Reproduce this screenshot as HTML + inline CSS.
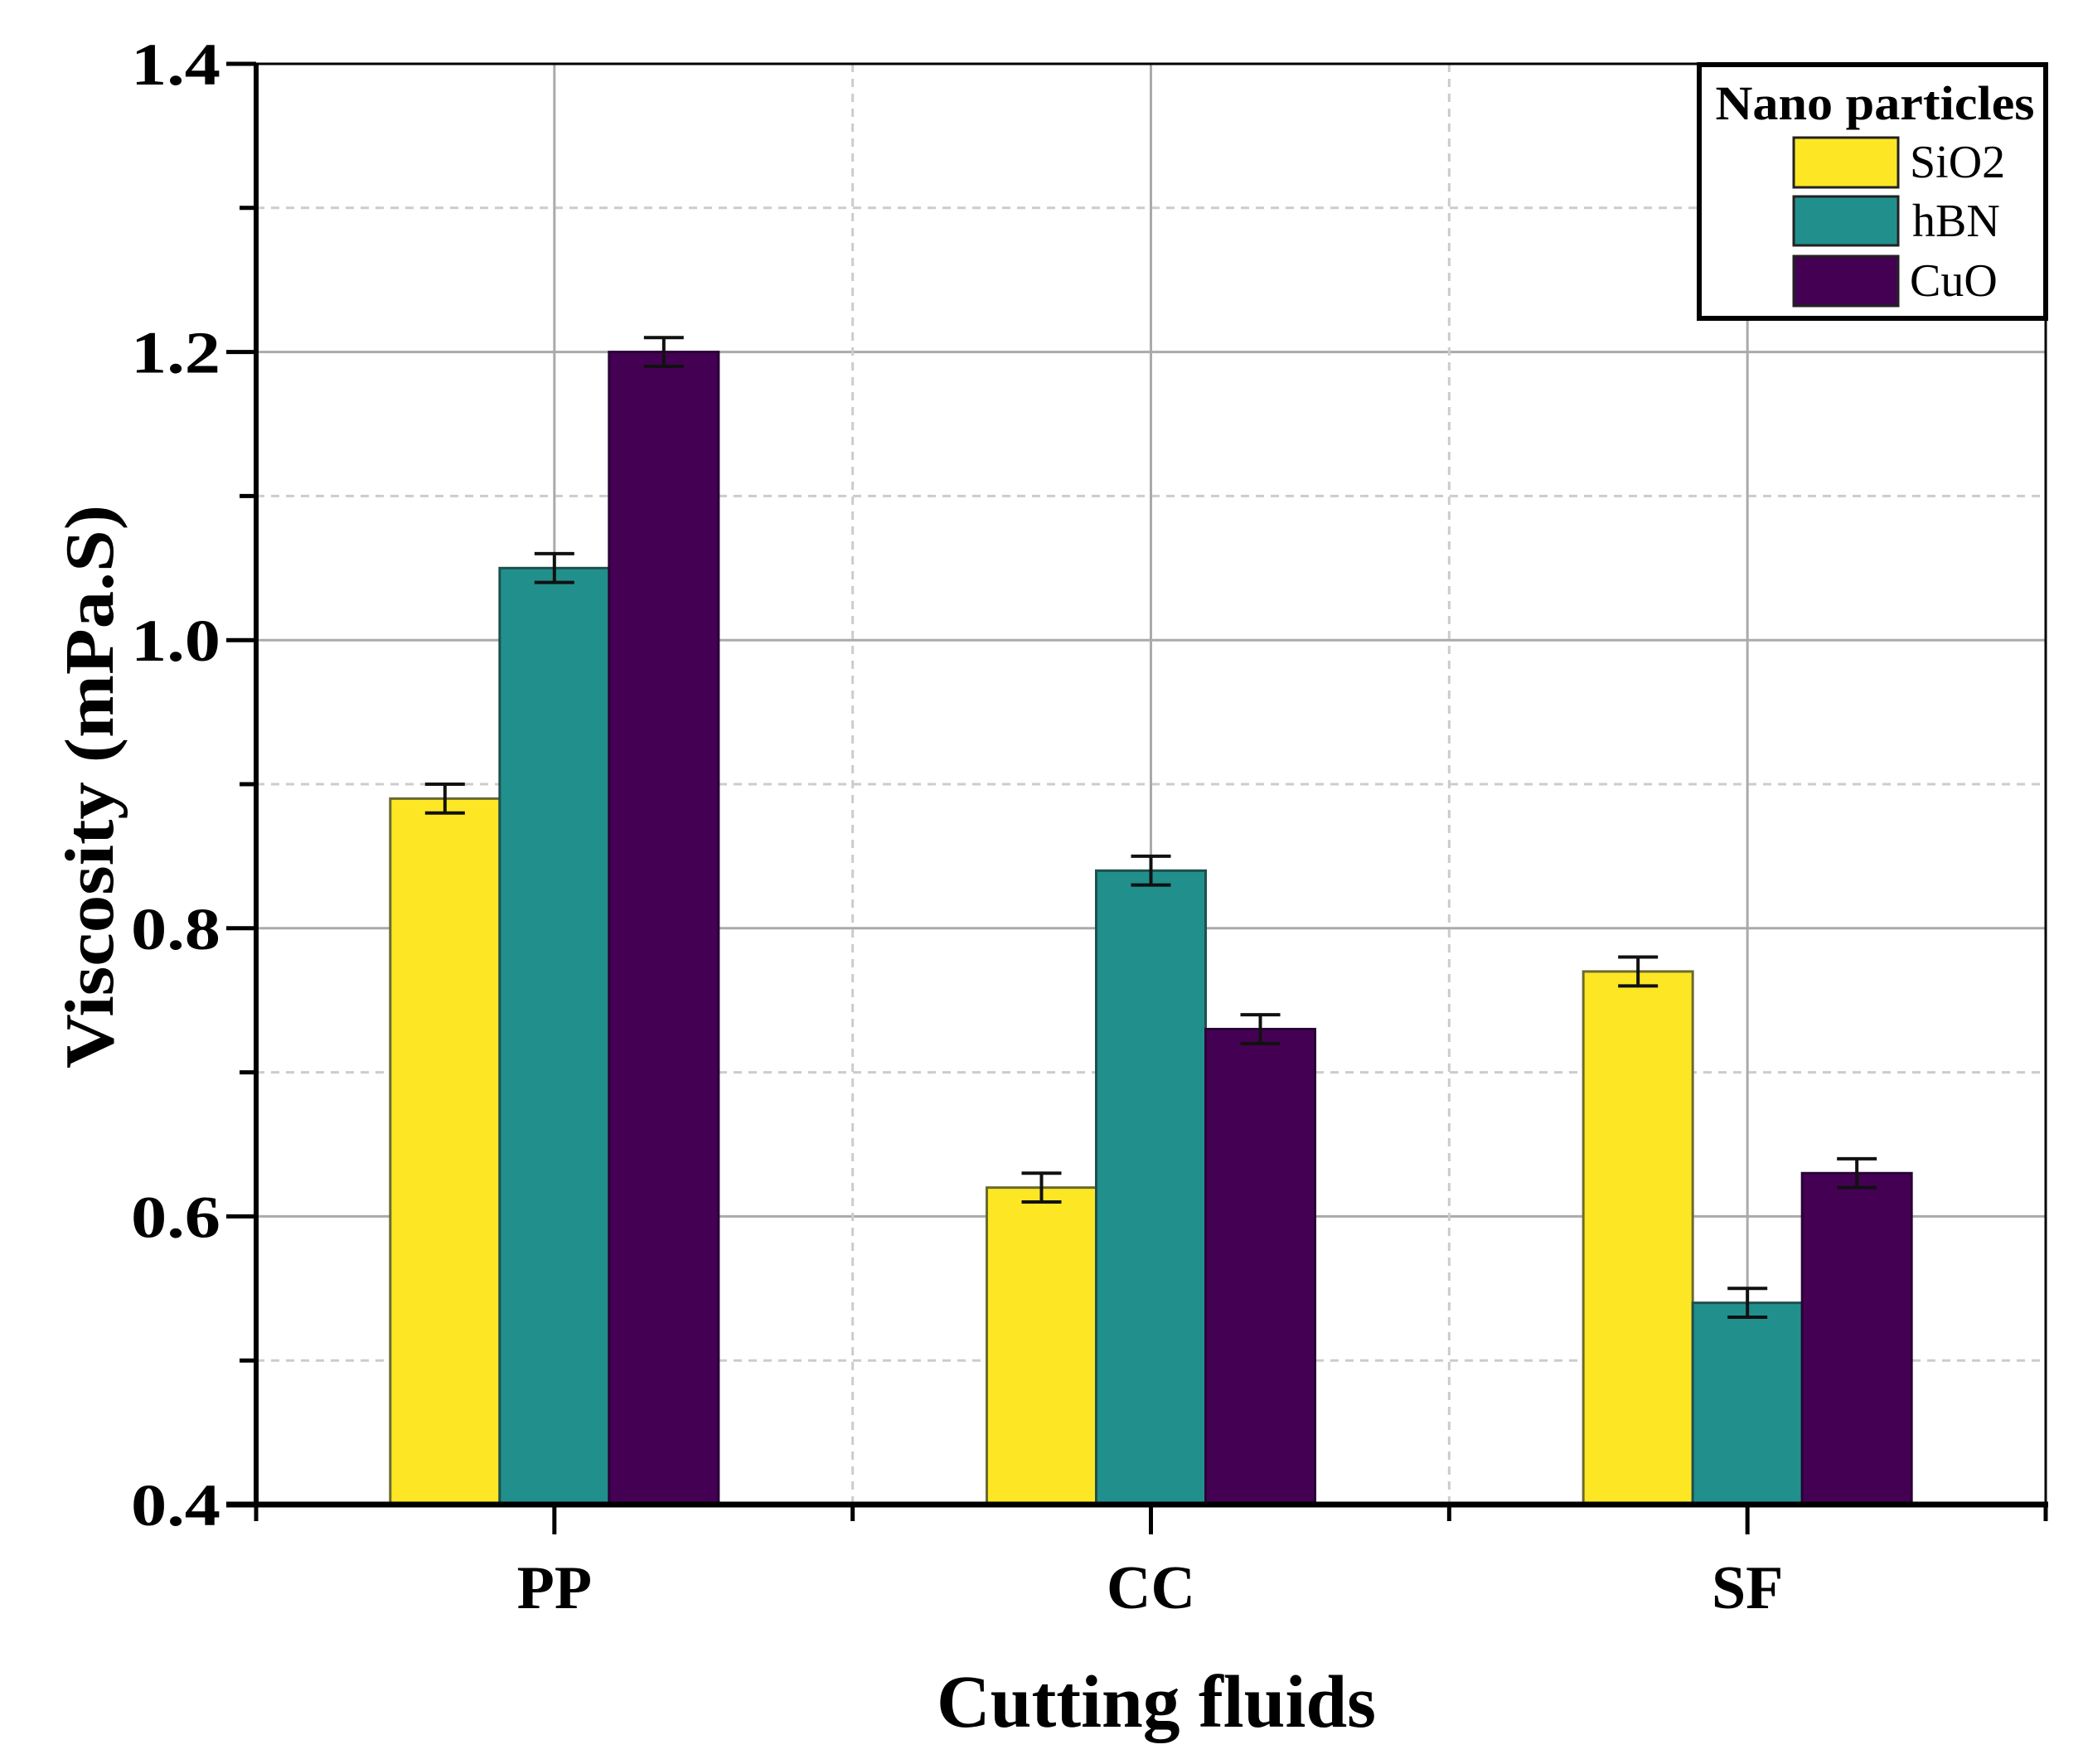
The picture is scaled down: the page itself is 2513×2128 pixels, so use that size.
<!DOCTYPE html>
<html><head><meta charset="utf-8"><style>
html,body{margin:0;padding:0;background:#fff;}
svg{display:block;font-family:"Liberation Serif",serif;}
</style></head><body>
<svg id="chart" width="2513" height="2128" viewBox="0 0 2513 2128">
<g id="grid"></g>
<g id="bars"></g>
<g id="axes"></g>
<text x="1395" y="2083" font-size="90" font-weight="bold" text-anchor="middle" textLength="530" lengthAdjust="spacingAndGlyphs">Cutting fluids</text>
<text transform="translate(136,949) rotate(-90)" font-size="84" font-weight="bold" text-anchor="middle" textLength="680" lengthAdjust="spacingAndGlyphs">Viscosity (mPa.S)</text>
<g>
<rect x="2050" y="78" width="418" height="306" fill="#fff" stroke="#000" stroke-width="6"/>
<text x="2262" y="144" font-size="58" font-weight="bold" text-anchor="middle" textLength="385" lengthAdjust="spacingAndGlyphs">Nano particles</text>
<g><rect x="2164" y="166" width="126" height="60" fill="#fde725" stroke="#222" stroke-width="3"/><text x="2304" y="214" font-size="56">SiO2</text></g>
<g><rect x="2164" y="237" width="126" height="59" fill="#21908d" stroke="#222" stroke-width="3"/><text x="2307" y="285" font-size="56">hBN</text></g>
<g><rect x="2164" y="309" width="126" height="60" fill="#440154" stroke="#222" stroke-width="3"/><text x="2304" y="357" font-size="56">CuO</text></g>
</g>
</svg>
<script>
const categories = ["PP", "CC", "SF"];
const seriesNames = ["SiO2", "hBN", "CuO"];
const sio2Values = [0.89, 0.62, 0.77];
const hbnValues = [1.05, 0.84, 0.54];
const cuoValues = [1.20, 0.73, 0.63];
const errorValues = [0.01, 0.01, 0.01];
const yTickLabels = ["0.4", "0.6", "0.8", "1.0", "1.2", "1.4"];
const yTickValues = [0.4, 0.6, 0.8, 1.0, 1.2, 1.4];
const yMinorValues = [0.5, 0.7, 0.9, 1.1, 1.3];

const seriesValues = [sio2Values, hbnValues, cuoValues];
const colors = ["#fde725", "#21908d", "#440154"];
const strokes = ["#6a6a30", "#1f4f4c", "#2a0035"];
const NS = "http://www.w3.org/2000/svg";
const L = 309, R = 2468, T = 77, B = 1815;
const yMin = 0.4, yMax = 1.4;
const catW = (R - L) / categories.length;
function xCat(i) { return L + catW * (i + 0.5); }
function y(v) { return B - (v - yMin) / (yMax - yMin) * (B - T); }
const barW = 132;
function mk(tag, attrs, parent) { const e = document.createElementNS(NS, tag); for (const k in attrs) e.setAttribute(k, attrs[k]); parent.appendChild(e); return e; }
const grid = document.getElementById('grid'), bars = document.getElementById('bars'), axes = document.getElementById('axes');

yTickValues.forEach((v, i) => {
  if (v > yMin && v < yMax) {
    const g = mk('line', {x1: L, x2: R, y1: y(v), y2: y(v), stroke: '#aaa', 'stroke-width': 3}, grid);
    
    
  }
  const t = mk('line', {x1: L - 36, x2: L, y1: y(v), y2: y(v), stroke: '#000', 'stroke-width': 5}, axes);
  
  
  const lb = mk('text', {x: 266, y: y(v) + 25, 'font-size': 72, 'font-weight': 'bold', 'text-anchor': 'end', textLength: 108, lengthAdjust: 'spacingAndGlyphs'}, axes);
  lb.textContent = yTickLabels[i];
  
  
});
yMinorValues.forEach(v => {
  const g = mk('line', {x1: L, x2: R, y1: y(v), y2: y(v), stroke: '#ccc', 'stroke-width': 3, 'stroke-dasharray': '10 8'}, grid);
  
  
  const t = mk('line', {x1: L - 20, x2: L, y1: y(v), y2: y(v), stroke: '#000', 'stroke-width': 5}, axes);
  
  
});
categories.forEach((c, i) => {
  const g = mk('line', {x1: xCat(i), x2: xCat(i), y1: T, y2: B, stroke: '#aaa', 'stroke-width': 3}, grid);
  
  
  if (i < categories.length - 1) {
    const d = mk('line', {x1: L + catW * (i + 1), x2: L + catW * (i + 1), y1: T, y2: B, stroke: '#ccc', 'stroke-width': 3, 'stroke-dasharray': '10 8'}, grid);
    
    
  }
  const t = mk('line', {x1: xCat(i), x2: xCat(i), y1: B, y2: B + 36, stroke: '#000', 'stroke-width': 5}, axes);
  
  
  const lb = mk('text', {x: xCat(i), y: 1940, 'font-size': 74, 'font-weight': 'bold', 'text-anchor': 'middle'}, axes);
  lb.textContent = c;
  
  
  seriesValues.forEach((vals, s) => {
    const v = vals[i];
    const x0 = xCat(i) + (s - 1.5) * barW;
    const b = mk('rect', {x: x0, y: y(v), width: barW, height: B - y(v), fill: colors[s], stroke: strokes[s], 'stroke-width': 3}, bars);
    
    
    const cx = x0 + barW / 2, e = errorValues[i];
    const eg = mk('path', {d: `M${cx},${y(v + e)}V${y(v - e)}M${cx - 24},${y(v + e)}H${cx + 24}M${cx - 24},${y(v - e)}H${cx + 24}`, stroke: '#111', 'stroke-width': 4, fill: 'none'}, bars);
    
    
  });
});
for (let k = 0; k <= categories.length; k++) {
  const t = mk('line', {x1: L + catW * k, x2: L + catW * k, y1: B, y2: B + 20, stroke: '#000', 'stroke-width': 5}, axes);
  
  
}
const frame = mk('rect', {x: L, y: T, width: R - L, height: B - T, fill: 'none', stroke: '#000', 'stroke-width': 3}, axes);


const xa = mk('line', {x1: L - 36, x2: R + 3, y1: B, y2: B, stroke: '#000', 'stroke-width': 7}, axes);


const ya = mk('line', {x1: L, x2: L, y1: T, y2: B + 3, stroke: '#000', 'stroke-width': 6}, axes);


</script>
</body></html>
